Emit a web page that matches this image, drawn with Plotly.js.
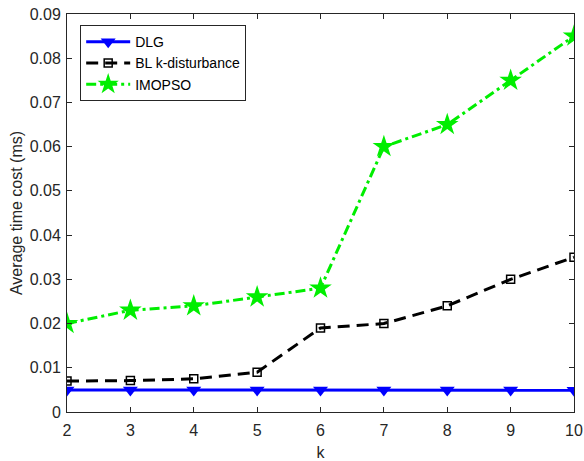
<!DOCTYPE html>
<html><head><meta charset="utf-8">
<script src="https://cdn.plot.ly/plotly-3.0.1.min.js"></script>
<style>html,body{margin:0;padding:0;background:#fff}</style>
</head><body>
<div id="chart" style="width:584px;height:461px"></div>
<script>
const k = [2, 3, 4, 5, 6, 7, 8, 9, 10];
const dlg = [0.005, 0.005, 0.005, 0.005, 0.005, 0.005, 0.005, 0.005, 0.0049];
const bl = [0.007, 0.0071, 0.0075, 0.009, 0.019, 0.020, 0.024, 0.030, 0.035];
const imopso = [0.020, 0.023, 0.024, 0.026, 0.028, 0.060, 0.065, 0.075, 0.085];
const yTicks = [0, 0.01, 0.02, 0.03, 0.04, 0.05, 0.06, 0.07, 0.08, 0.09];
const yTickText = ['0', '0.01', '0.02', '0.03', '0.04', '0.05', '0.06', '0.07', '0.08', '0.09'];

const traces = [
  {x: k, y: dlg, name: 'DLG', mode: 'lines+markers',
   line: {color: '#0000ff', width: 3},
   marker: {symbol: 'triangle-down', size: 13, color: '#0000ff'}},
  {x: k, y: bl, name: 'BL k-disturbance', mode: 'lines+markers',
   line: {color: '#000000', width: 3, dash: '12px,7px'},
   marker: {symbol: 'square-open', size: 8, color: '#000000', line: {width: 1.5}}},
  {x: k, y: imopso, name: 'IMOPSO', mode: 'lines+markers',
   line: {color: '#00ee00', width: 3, dash: '10px,4px,3px,4px'},
   marker: {symbol: 'star', size: 17, color: '#00ee00', line: {width: 0}}}
];
const tickFont = {family: 'Liberation Sans, Arial', size: 16, color: '#262626'};
const axisCommon = {
  showgrid: false, zeroline: false, showline: true, mirror: 'ticks',
  linecolor: '#262626', linewidth: 1, ticks: 'inside', ticklen: 5,
  tickcolor: '#262626', tickfont: tickFont
};
const layout = {
  width: 584, height: 461,
  margin: {l: 67, r: 10, t: 14, b: 49},
  paper_bgcolor: '#fff', plot_bgcolor: '#fff',
  font: {family: 'Liberation Sans, Arial', color: '#262626'},
  showlegend: true,
  legend: {x: 0.026, y: 0.972, xanchor: 'left', yanchor: 'top',
    bordercolor: '#262626', borderwidth: 1, bgcolor: '#fff',
    font: {size: 14, color: '#000'}, tracegroupgap: 0, itemwidth: 44},
  xaxis: Object.assign({}, axisCommon, {range: [2, 10], tickvals: k, ticktext: k.map(String),
    ticklabelstandoff: 4,
    title: {text: 'k', font: {size: 16, color: '#262626'}, standoff: 9}}),
  yaxis: Object.assign({}, axisCommon, {range: [0, 0.09], tickvals: yTicks, ticktext: yTickText,
    ticklabelstandoff: 2,
    title: {text: 'Average time cost (ms)', font: {size: 16, color: '#262626'}, standoff: 3}})
};
Plotly.newPlot('chart', traces, layout, {displayModeBar: false, staticPlot: true});
</script>
</body></html>
